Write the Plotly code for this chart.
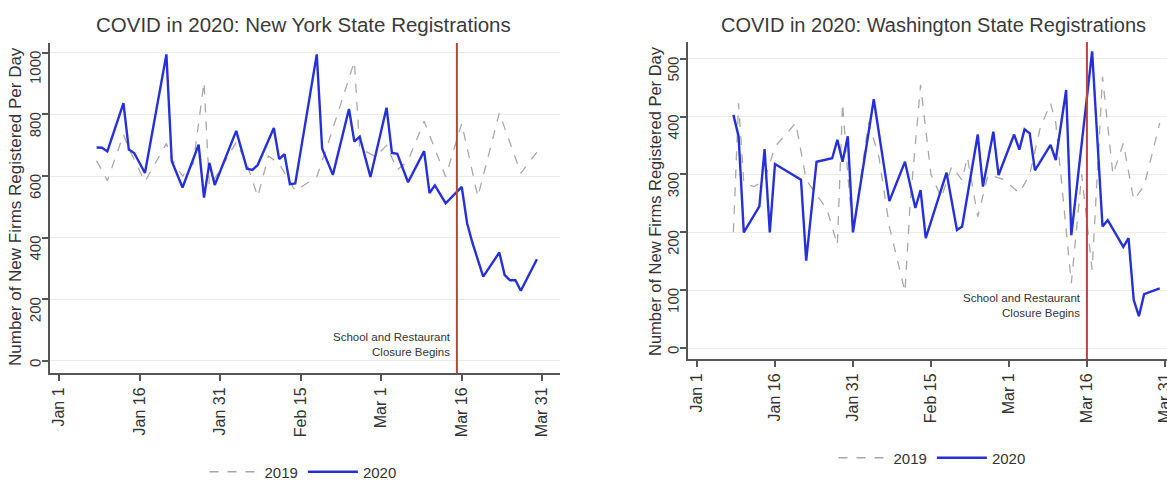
import plotly.graph_objects as go

# ---- data (day offset from Jan 1) ----
tick_days = [0, 15, 30, 45, 60, 75, 90]
tick_labels = ["Jan 1", "Jan 16", "Jan 31", "Feb 15", "Mar 1", "Mar 16", "Mar 31"]

ny_days_2020 = [7, 8, 9, 12, 13, 14, 16, 20, 21, 23, 26, 27, 28, 29, 33, 35, 36, 37, 40, 41,
                42, 43, 44, 48, 49, 51, 54, 55, 56, 58, 61, 62, 63, 65, 68, 69, 70, 72, 75, 76,
                77, 79, 82, 83, 84, 85, 86, 89]
ny_vals_2020 = [693, 692, 680, 837, 686, 675, 610, 995, 648, 563, 702, 530, 643, 571, 747, 624, 620, 636, 756, 655,
                671, 574, 576, 995, 690, 604, 818, 712, 728, 597, 822, 675, 672, 580, 681, 545, 570, 512, 565, 447,
                383, 274, 352, 279, 262, 262, 228, 330]

ny_days_2019 = [7, 9, 12, 13, 16, 20, 21, 23, 25, 27, 28, 30, 33, 35, 37, 39, 41, 44, 48, 50,
                55, 56, 59, 61, 63, 65, 68, 72, 75, 78, 82, 86, 90]
ny_vals_2019 = [650, 585, 735, 690, 582, 706, 655, 600, 640, 905, 566, 620, 710, 640, 533, 665, 640, 552, 598, 700,
                972, 690, 663, 700, 620, 650, 778, 598, 771, 533, 805, 610, 700]

wa_days_2020 = [7, 8, 9, 12, 13, 14, 15, 20, 21, 23, 26, 27, 28, 29, 30, 34, 37, 40, 42, 43,
                44, 48, 50, 51, 54, 55, 57, 58, 61, 62, 63, 64, 65, 68, 69, 71, 72, 76, 78,
                79, 82, 83, 84, 85, 86, 89]
wa_vals_2020 = [403, 366, 200, 245, 344, 200, 318, 291, 151, 322, 328, 360, 322, 366, 200, 430, 254, 322, 242, 273,
                190, 303, 204, 210, 369, 279, 374, 299, 369, 343, 378, 371, 307, 351, 325, 446, 195, 513, 210,
                221, 175, 190, 83, 55, 93, 103]

wa_days_2019 = [7, 8, 9, 11, 13, 15, 19, 21, 23, 25, 27, 28, 29, 30, 33, 35, 37, 40, 41, 43,
                45, 47, 49, 51, 52, 54, 56, 59, 62, 64, 66, 68, 69, 71, 72, 74, 76, 78, 80, 82,
                84, 86, 89]
wa_vals_2019 = [200, 423, 285, 279, 290, 348, 389, 291, 265, 240, 178, 423, 300, 200, 390, 330, 210, 97, 250, 455,
                300, 260, 314, 290, 330, 227, 300, 291, 268, 300, 380, 423, 390, 204, 112, 300, 135, 469, 300, 354,
                256, 280, 389]

ny_ticks = [0, 200, 400, 600, 800, 1000]
wa_ticks = [0, 100, 200, 300, 400, 500]
ny_closure_day = 74.1
wa_closure_day = 75

titles = ["COVID in 2020: New York State Registrations", "COVID in 2020: Washington State Registrations"]
ytitle = "Number of New Firms Registered Per Day"
note = "School and Restaurant<br>Closure Begins"

# ---- styles ----
FONT = "Arial, Liberation Sans, sans-serif"
BLUE = "#2630d8"
GRAY = "#a8a8a8"
RED = "#b5473f"
AX = "#555555"
TXT = "#333333"

fig = go.Figure()

fig.add_trace(go.Scatter(x=ny_days_2019, y=ny_vals_2019, mode="lines", name="2019",
                         line=dict(color=GRAY, width=1.3, dash="dash"), xaxis="x", yaxis="y", legend="legend"))
fig.add_trace(go.Scatter(x=ny_days_2020, y=ny_vals_2020, mode="lines", name="2020",
                         line=dict(color=BLUE, width=2.4), xaxis="x", yaxis="y", legend="legend"))
fig.add_trace(go.Scatter(x=wa_days_2019, y=wa_vals_2019, mode="lines", name="2019",
                         line=dict(color=GRAY, width=1.3, dash="dash"), xaxis="x2", yaxis="y2", legend="legend2"))
fig.add_trace(go.Scatter(x=wa_days_2020, y=wa_vals_2020, mode="lines", name="2020",
                         line=dict(color=BLUE, width=2.4), xaxis="x2", yaxis="y2", legend="legend2"))

W, H = 1167, 484

def xax(domain, rng, anchor):
    return dict(domain=domain, range=rng, anchor=anchor, tickmode="array", tickvals=tick_days,
                ticktext=tick_labels, tickangle=-90, ticks="outside", ticklen=6, tickwidth=1.5,
                tickcolor=AX, showline=True, linecolor=AX, linewidth=2, showgrid=False, zeroline=False,
                automargin=False, ticklabeloverflow="allow",
                tickfont=dict(family=FONT, size=16, color=TXT))

def yax(domain, rng, anchor, tv):
    return dict(domain=domain, range=rng, anchor=anchor, tickmode="array", tickvals=tv,
                tickangle=-89.9, ticks="outside", ticklen=6, tickwidth=1.5, tickcolor=AX,
                ticklabelstandoff=6,
                showline=True, linecolor=AX, linewidth=2, showgrid=True, gridcolor="#ececec",
                gridwidth=1, zeroline=False, automargin=False,
                tickfont=dict(family=FONT, size=15, color=TXT))

fig.update_layout(
    width=W, height=H, margin=dict(l=0, r=0, t=0, b=0, autoexpand=False),
    paper_bgcolor="white", plot_bgcolor="white",
    font=dict(family=FONT, color=TXT),
    xaxis=xax([50 / W, 560 / W], [-1.68, 93.3], "y"),
    yaxis=yax([1 - 373 / H, 1 - 43 / H], [-39, 1032], "x", ny_ticks),
    xaxis2=xax([688 / W, 1.0], [-1.73, 90.4], "y2"),
    yaxis2=yax([1 - 359 / H, 1 - 42 / H], [-19, 529], "x2", wa_ticks),
    legend=dict(orientation="h", x=303 / W, y=1 - 472 / H, xanchor="center", yanchor="middle",
                font=dict(family=FONT, size=15, color=TXT), bgcolor="rgba(0,0,0,0)", itemwidth=50),
    legend2=dict(orientation="h", x=932 / W, y=1 - 458 / H, xanchor="center", yanchor="middle",
                 font=dict(family=FONT, size=15, color=TXT), bgcolor="rgba(0,0,0,0)", itemwidth=50),
    shapes=[
        dict(type="line", xref="x", yref="y domain", x0=ny_closure_day, x1=ny_closure_day, y0=0, y1=1,
             line=dict(color=RED, width=2)),
        dict(type="line", xref="x2", yref="y2 domain", x0=wa_closure_day, x1=wa_closure_day, y0=0, y1=1,
             line=dict(color=RED, width=2)),
    ],
    annotations=[
        dict(text=titles[0], xref="paper", yref="paper", x=303 / W, y=1 - 25 / H, showarrow=False,
             xanchor="center", yanchor="middle", font=dict(family=FONT, size=20.5, color="#3a3a3a")),
        dict(text=titles[1], xref="paper", yref="paper", x=933 / W, y=1 - 25 / H, showarrow=False,
             xanchor="center", yanchor="middle", font=dict(family=FONT, size=20, color="#3a3a3a")),
        dict(text=ytitle, xref="paper", yref="paper", x=16 / W, y=1 - 207 / H, showarrow=False,
             textangle=-90, xanchor="center", yanchor="middle",
             font=dict(family=FONT, size=17, color=TXT)),
        dict(text=ytitle, xref="paper", yref="paper", x=655 / W, y=1 - 201 / H, showarrow=False,
             textangle=-90, xanchor="center", yanchor="middle",
             font=dict(family=FONT, size=16.5, color=TXT)),
        dict(text=note, xref="x", yref="y domain", x=ny_closure_day, y=0.085, xanchor="right",
             yanchor="middle", align="right", showarrow=False, xshift=-4,
             font=dict(family=FONT, size=11.5, color=TXT)),
        dict(text=note, xref="x2", yref="y2 domain", x=wa_closure_day, y=0.169, xanchor="right",
             yanchor="middle", align="right", showarrow=False, xshift=-4,
             font=dict(family=FONT, size=11.5, color=TXT)),
    ],
)

fig.write_html("out.html", config={"displayModeBar": False},
               post_script="document.body.style.margin='0px';")
